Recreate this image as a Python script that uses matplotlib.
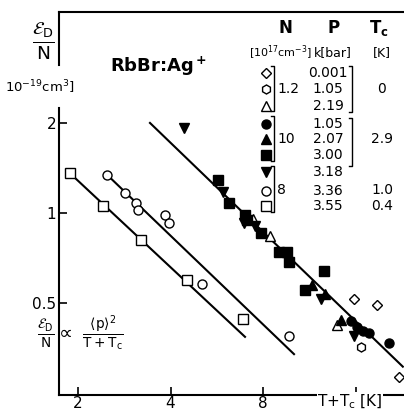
import matplotlib
matplotlib.use("Agg")
import matplotlib.pyplot as plt
import numpy as np

plt.rcParams['font.family'] = ['DejaVu Sans']
plt.rcParams['mathtext.default'] = 'regular'

# data (T+Tc [K], eps_D/N [1e-19 cm^3])
sq_x = [1.88, 2.41, 3.21, 4.53, 6.89]          # open square, 3.55 kbar
sq_y = [1.36, 1.055, 0.812, 0.597, 0.442]
oc_x = [2.49, 2.84, 3.09, 3.14, 3.84, 3.96, 5.07, 9.72]   # open circle, 3.36 kbar
oc_y = [1.34, 1.167, 1.08, 1.023, 0.985, 0.926, 0.579, 0.388]
dia_x = [15.8, 18.8, 22.2]                     # 0.001 kbar
dia_y = [0.516, 0.492, 0.283]
hex_x = [16.7]                                 # 1.05 kbar
hex_y = [0.356]
otri_x = [7.42, 8.43, 13.9]                    # 2.19 kbar
otri_y = [0.955, 0.838, 0.422]
fc_x = [15.5, 16.2, 16.9, 17.7, 20.6]          # 1.05 kbar
fc_y = [0.435, 0.416, 0.403, 0.397, 0.367]
ftri_x = [11.55, 12.73, 14.35]                 # 2.07 kbar
ftri_y = [0.574, 0.536, 0.439]
fsq_x = [5.71, 6.20, 6.99, 7.08, 7.88, 9.02, 9.58, 9.72, 12.63, 10.96]   # 3.00 kbar
fsq_y = [1.289, 1.08, 0.985, 0.947, 0.857, 0.741, 0.741, 0.686, 0.64, 0.553]
fdn_x = [4.43, 5.93, 6.94, 7.54, 12.35, 15.8]  # 3.18 kbar
fdn_y = [1.924, 1.175, 0.926, 0.905, 0.516, 0.388]

# fitted lines
lf_x, lf_y = [3.43, 22.8], [2.0, 0.306]
lo_x, lo_y = [2.49, 10.09], [1.34, 0.337]
ls_x, ls_y = [1.88, 6.99], [1.36, 0.385]

W, H = 404, 412
fig = plt.figure(figsize=(W/100, H/100), dpi=100)
ax = fig.add_axes([59/W, 1-395/H, 1-59/W, (395-12)/H])
ax.set_xscale('log')
ax.set_yscale('log')
ax.set_xlim(1.735, 23.0)
ax.set_ylim(0.246, 4.70)

for xs, ys in [(lf_x, lf_y), (lo_x, lo_y), (ls_x, ls_y)]:
    ax.plot(xs, ys, color='k', lw=1.5, zorder=1)

ms = 6.5
op = dict(ls='none', mfc='white', mec='k', mew=1.0, zorder=3)
fl = dict(ls='none', color='k', zorder=3)
ax.plot(sq_x, sq_y, marker='s', ms=ms, **op)
ax.plot(oc_x, oc_y, marker='o', ms=ms, **op)
ax.plot(dia_x, dia_y, marker='D', ms=ms-1, **op)
ax.plot(hex_x, hex_y, marker='h', ms=ms, **op)
ax.plot(otri_x, otri_y, marker='^', ms=ms, **op)
ax.plot(fc_x, fc_y, marker='o', ms=ms, **fl)
ax.plot(ftri_x, ftri_y, marker='^', ms=ms, **fl)
ax.plot(fsq_x, fsq_y, marker='s', ms=ms, **fl)
ax.plot(fdn_x, fdn_y, marker='v', ms=ms, **fl)

xt = [2, 4, 8, 16]
ax.set_xticks(xt)
ax.set_xticklabels(['2', '4', '8', ''])
ax.set_yticks([0.5, 1, 2])
ax.set_yticklabels(['0.5', '1', '2'])
ax.xaxis.set_minor_locator(matplotlib.ticker.NullLocator())
ax.yaxis.set_minor_locator(matplotlib.ticker.NullLocator())
ax.tick_params(direction='in', length=6, width=1.2, labelsize=11, pad=2)
ax.tick_params(axis='x', pad=1)
ax.spines['right'].set_visible(False)
ax.spines['left'].set_visible(False)
for s in ['top', 'bottom']:
    ax.spines[s].set_linewidth(1.5)
# left spine with a gap for the unit label
ax.plot([0, 0], [1, (395-65)/383], transform=ax.transAxes, color='k', lw=1.5, clip_on=False)
ax.plot([0, 0], [(395-108)/383, 0], transform=ax.transAxes, color='k', lw=1.5, clip_on=False)


def px(x, y):
    return x/W, 1-y/H


fig.text(*px(43, 41), r'$\frac{\mathcal{E}_D}{N}$', fontsize=19, ha='center', va='center')
fig.text(*px(40, 87), r'10$^{-19}$cm$^3$]', fontsize=9.5, ha='center', va='center')
fig.text(*px(159, 66), r'RbBr:Ag$^+$', fontsize=13, fontweight='bold', ha='center', va='center')
fig.text(*px(80, 333), r'$\frac{\mathcal{E}_D}{N}\propto\ \frac{\langle p\rangle^2}{T+T_c}$',
         fontsize=14, ha='center', va='center')
fig.text(*px(350, 402), r'T+T$_c$ [K]', fontsize=11, ha='center', va='center',
         bbox=dict(fc='white', ec='none', pad=0.5))

# legend table
fig.text(*px(285, 28), 'N', fontsize=12, fontweight='bold', ha='center', va='center')
fig.text(*px(334, 28), 'P', fontsize=12, fontweight='bold', ha='center', va='center')
fig.text(*px(379, 28), r'T$_c$', fontsize=12, fontweight='bold', ha='center', va='center')
fig.text(*px(281, 53), r'[10$^{17}$cm$^{-3}$]', fontsize=8, ha='center', va='center')
fig.text(*px(333, 53), 'k[bar]', fontsize=9, ha='center', va='center')
fig.text(*px(382, 53), '[K]', fontsize=9, ha='center', va='center')

rows_y = [73, 89, 106, 124, 139, 155, 172, 191, 206]
leg_mk = ['D', 'h', '^', 'o', '^', 's', 'v', 'o', 's']
leg_fill = [False, False, False, True, True, True, True, False, False]
leg_p = ['0.001', '1.05', '2.19', '1.05', '2.07', '3.00', '3.18', '3.36', '3.55']
for yy, mk, f, p in zip(rows_y, leg_mk, leg_fill, leg_p):
    fx, fy = px(266, yy)
    fig.lines.append(plt.Line2D([fx], [fy], marker=mk, ms=ms-1 if mk == 'D' else ms,
                                mfc='k' if f else 'white', mec='k', ls='none',
                                transform=fig.transFigure))
    fig.text(*px(328, yy), p, fontsize=10, ha='center', va='center')

for t, yy in [('1.2', 89), ('10', 139), ('8', 190)]:
    fig.text(*px(277, yy), t, fontsize=10, ha='left', va='center')
for t, yy in [('0', 89), ('2.9', 139), ('1.0', 190), ('0.4', 206)]:
    fig.text(*px(382, yy), t, fontsize=10, ha='center', va='center')


def bracket(x, y0, y1):
    xs = [x-3, x, x, x-3]
    ys = [y0, y0, y1, y1]
    fig.lines.append(plt.Line2D([v/W for v in xs], [1-v/H for v in ys], color='k', lw=1,
                                transform=fig.transFigure))


for y0, y1 in [(66, 111), (116, 161), (166, 212)]:
    bracket(274, y0, y1)
for y0, y1 in [(66, 112), (118, 166)]:
    bracket(352, y0, y1)

fig.savefig('out.png', dpi=100)
